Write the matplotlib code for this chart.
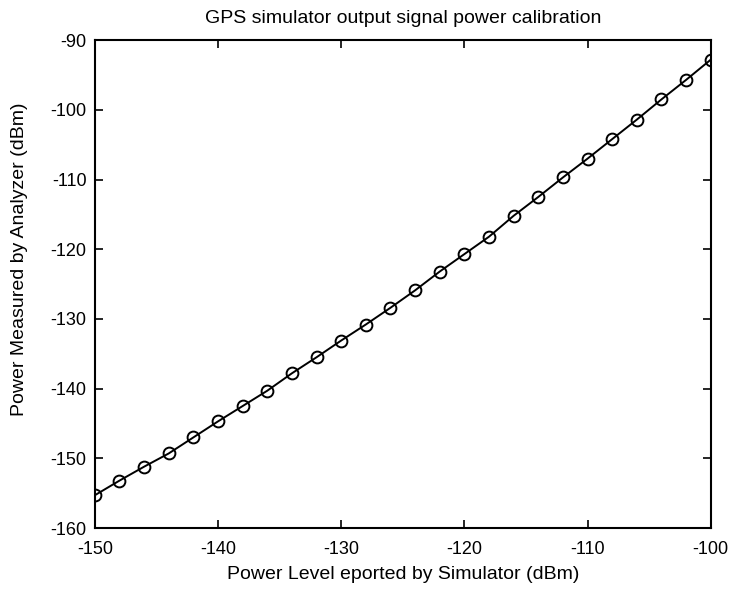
import matplotlib
matplotlib.use("Agg")
import matplotlib.pyplot as plt
import numpy as np

plt.rcParams['font.family'] = ['Liberation Sans', 'DejaVu Sans']
plt.rcParams['axes.unicode_minus'] = False

# power reported by the simulator (dBm)
reported = [-150, -148, -146, -144, -142, -140, -138, -136, -134, -132,
            -130, -128, -126, -124, -122, -120, -118, -116, -114, -112,
            -110, -108, -106, -104, -102, -100]
# power measured by the analyzer (dBm)
measured = [-155.3, -153.2, -151.2, -149.3, -147.0, -144.7, -142.5, -140.3,
            -137.8, -135.5, -133.1, -130.8, -128.4, -125.9, -123.2, -120.7,
            -118.2, -115.2, -112.5, -109.7, -107.0, -104.2, -101.4, -98.5,
            -95.7, -92.8]

x_ticks = [-150, -140, -130, -120, -110, -100]
y_ticks = [-160, -150, -140, -130, -120, -110, -100, -90]

fig = plt.figure(figsize=(7.29, 5.90), dpi=100)
ax = fig.add_axes([0.130, 0.105, 0.845, 0.827])

ax.plot(reported, measured, color='black', linewidth=1.4,
        marker='o', markersize=8.5, markerfacecolor='none',
        markeredgecolor='black', markeredgewidth=1.4)

ax.set_xlim(-150, -100)
ax.set_ylim(-160, -90)
ax.set_xticks(x_ticks)
ax.set_yticks(y_ticks)
ax.set_xticklabels([str(v) for v in x_ticks])
ax.set_yticklabels([str(v) for v in y_ticks])

ax.tick_params(direction='in', length=6, width=1.2, top=True, right=True,
               labelsize=13, pad=6)
ax.tick_params(axis='x', pad=9)
for s in ax.spines.values():
    s.set_linewidth(1.5)

ax.set_title("GPS simulator output signal power calibration", fontsize=14, pad=12)
ax.set_xlabel("Power Level eported by Simulator (dBm)", fontsize=14, labelpad=6)
ax.set_ylabel("Power Measured by Analyzer (dBm)", fontsize=14)
ax.yaxis.set_label_coords(-0.108, 0.55)

fig.savefig("out.png", dpi=100)
